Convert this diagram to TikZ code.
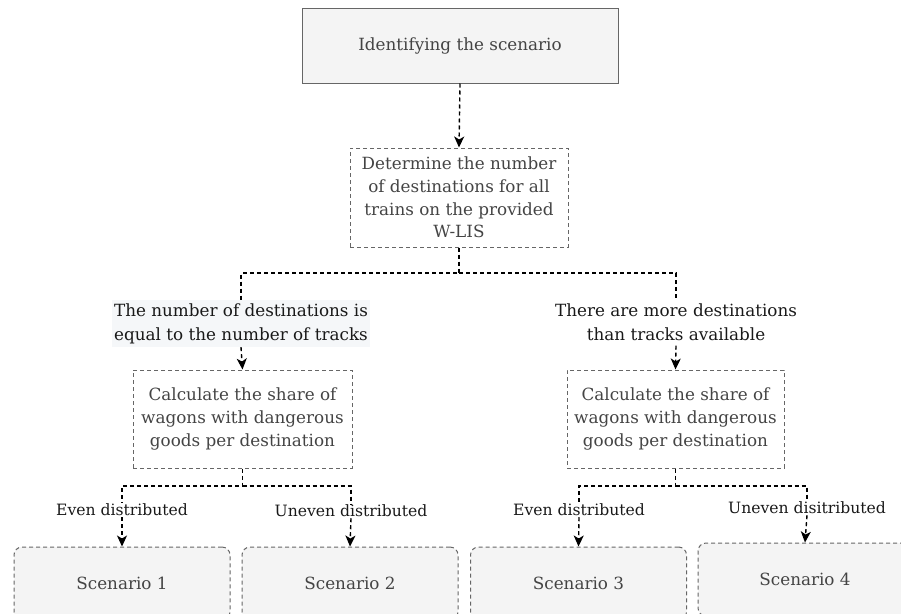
\documentclass[tikz,border=0pt]{standalone}
\usepackage{fontspec}
\setmainfont{DejaVu Serif}
\usepackage{tikz}
\usetikzlibrary{arrows.meta}
\definecolor{boxgray}{HTML}{F4F4F4}
\definecolor{linegray}{HTML}{666666}
\definecolor{textgray}{HTML}{444444}
\definecolor{labelbg}{HTML}{F5F7F9}
\tikzset{
  stepbox/.style={draw=linegray, line width=1pt, dash pattern=on 4pt off 3pt, text=textgray, align=center, font=\fontsize{16.8}{22.7}\selectfont},
  scenbox/.style={stepbox, fill=boxgray, rounded corners=8pt, minimum width=216pt, minimum height=73pt},
  choice/.style={align=center, text=black!90, inner sep=1pt, font=\fontsize{16.8}{24}\selectfont},
  split/.style={choice, font=\fontsize{15.6}{20}\selectfont},
  link/.style={black, line width=1.4pt, dash pattern=on 4pt off 3pt},
  arrow/.style={link, -{Stealth[length=11pt,width=10pt,inset=3pt]}}
}
\begin{document}
\begin{tikzpicture}[x=1pt,y=-1pt]
\useasboundingbox (0,0) rectangle (901,613);
\clip (0,0) rectangle (901,613);
\node[stepbox, solid, fill=boxgray, minimum width=316pt, minimum height=75pt] (ident) at (460,45.5) {Identifying the scenario};
\node[stepbox, minimum width=218pt, minimum height=99pt] (det) at (459,197.5) {Determine the number\\of destinations for all\\trains on the provided\\W-LIS};
\node[choice, fill=labelbg, minimum width=258pt, minimum height=47pt] (equal) at (241,323.5) {The number of destinations is\\equal to the number of tracks};
\node[choice, minimum height=47pt] (more) at (676,322) {There are more destinations\\than tracks available};
\node[stepbox, minimum width=219pt, minimum height=98pt] (calcA) at (242.5,419) {Calculate the share of\\wagons with dangerous\\goods per destination};
\node[stepbox, minimum width=217pt, minimum height=98pt] (calcB) at (675.5,419) {Calculate the share of\\wagons with dangerous\\goods per destination};
\node[split] (evenA) at (122,510) {Even distributed};
\node[split] (unevenA) at (351,511) {Uneven distributed};
\node[split] (evenB) at (579,510) {Even distributed};
\node[split] (unevenB) at (807,508) {Uneven disitributed};
\node[scenbox] (scen1) at (122,583.5) {Scenario 1};
\node[scenbox] (scen2) at (350,583.5) {Scenario 2};
\node[scenbox] (scen3) at (578.5,583.5) {Scenario 3};
\node[scenbox, minimum width=214pt] (scen4) at (805,579.5) {Scenario 4};
\coordinate (splitTop) at (det.south |- 0,273);
\coordinate (splitA) at (calcA.south |- 0,486);
\coordinate (splitB) at (calcB.south |- 0,486);
\draw[arrow] (ident.south) -- (det.north);
\draw[link] (det.south) -- (splitTop) -| (equal.north);
\draw[link] (splitTop) -| (more.north);
\draw[arrow] (equal.south) -- (calcA.north);
\draw[arrow] (more.south) -- (calcB.north);
\draw[link] (calcA.south) -- (splitA) -| (evenA.north);
\draw[link] (splitA) -| (unevenA.north);
\draw[link] (calcB.south) -- (splitB) -| (evenB.north);
\draw[link] (splitB) -| (unevenB.north);
\draw[arrow] (evenA.south) -- (scen1.north);
\draw[arrow] (unevenA.south) -- (scen2.north);
\draw[arrow] (evenB.south) -- (scen3.north);
\draw[arrow] (unevenB.south) -- (scen4.north);
\end{tikzpicture}
\end{document}
